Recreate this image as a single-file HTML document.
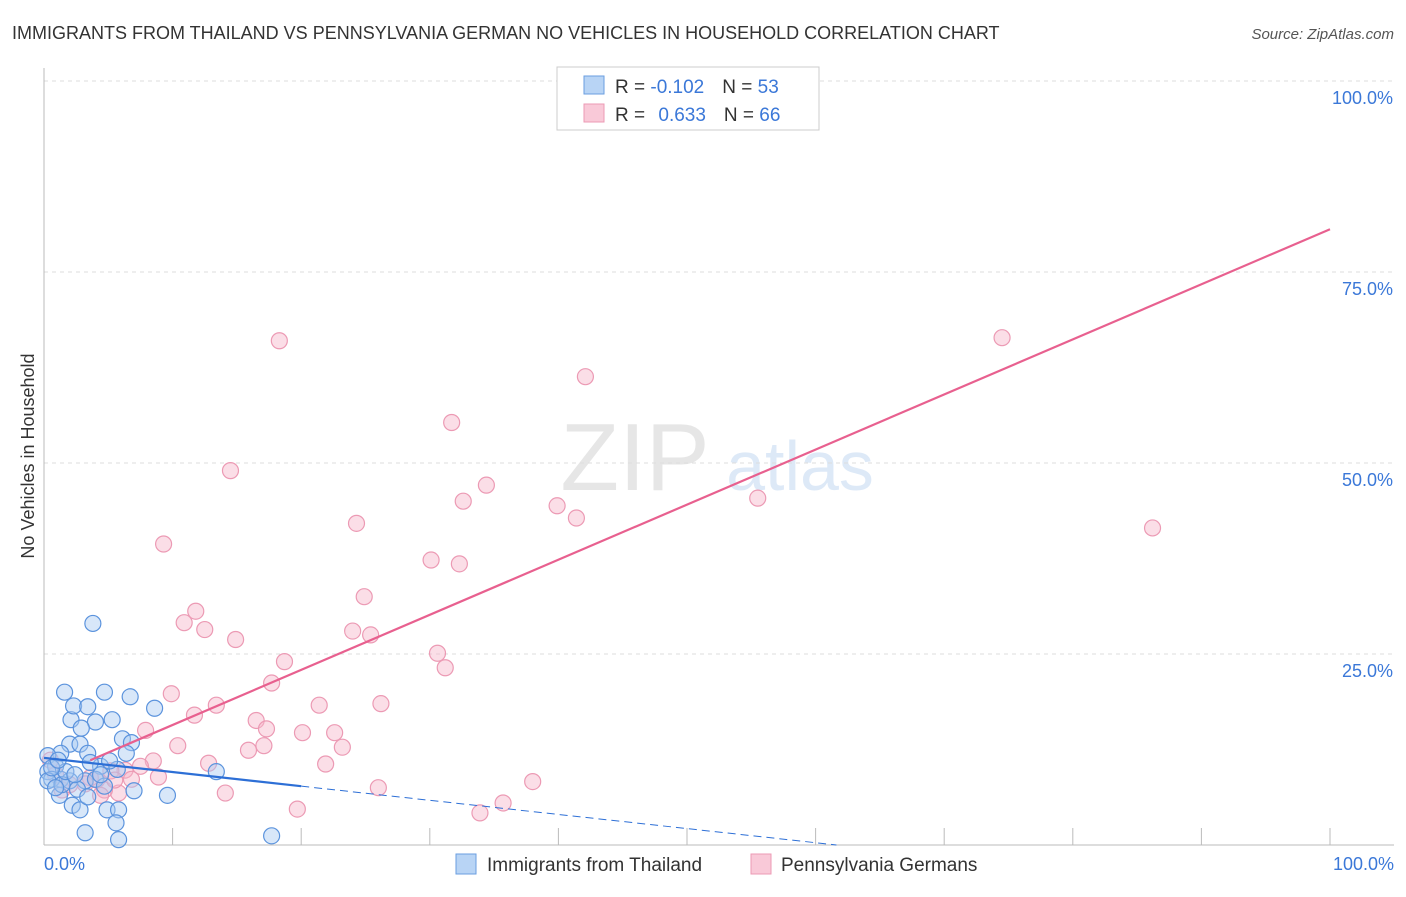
<!DOCTYPE html>
<html><head><meta charset="utf-8">
<style>
body{margin:0;background:#fff;font-family:"Liberation Sans",sans-serif;}
svg text{font-family:"Liberation Sans",sans-serif;}
</style></head>
<body>
<svg id="chart" width="1406" height="892" viewBox="0 0 1406 892" xmlns="http://www.w3.org/2000/svg">
<text x="12" y="39" font-size="18" fill="#333">IMMIGRANTS FROM THAILAND VS PENNSYLVANIA GERMAN NO VEHICLES IN HOUSEHOLD CORRELATION CHART</text>
<text x="1394" y="39" font-size="15" fill="#555" text-anchor="end" font-style="italic">Source: ZipAtlas.com</text>
<text transform="translate(34,456) rotate(-90)" font-size="18" fill="#333" text-anchor="middle">No Vehicles in Household</text>
<g opacity="0.18">
<text x="635" y="490" font-size="96" font-family="Liberation Serif" fill="#777" text-anchor="middle">ZIP</text>
<text x="800" y="490" font-size="70" fill="#4a8ad8" text-anchor="middle">atlas</text>
</g>
<g id="grid"></g><g id="axes"></g><g id="pts"></g><g id="lines"></g>
<g>
<rect x="557" y="67" width="262" height="63" fill="#fff" stroke="#ccc"/>
<rect x="584" y="76" width="20" height="18" fill="#b8d4f5" stroke="#6a9ee0"/>
<rect x="584" y="104" width="20" height="18" fill="#f9c9d8" stroke="#ec9ab4"/>
<text x="615" y="93" font-size="19" fill="#333">R = <tspan fill="#3b78d8">-0.102</tspan><tspan dx="18">N = </tspan><tspan fill="#3b78d8">53</tspan></text>
<text x="615" y="121" font-size="19" fill="#333">R = <tspan fill="#3b78d8" dx="8"> 0.633</tspan><tspan dx="18">N = </tspan><tspan fill="#3b78d8">66</tspan></text>
</g>
<g>
<rect x="456" y="854" width="20" height="20" fill="#b8d4f5" stroke="#6a9ee0"/>
<text x="487" y="871" font-size="19" fill="#333">Immigrants from Thailand</text>
<rect x="751" y="854" width="20" height="20" fill="#f9c9d8" stroke="#ec9ab4"/>
<text x="781" y="871" font-size="19" fill="#333">Pennsylvania Germans</text>
</g>
</svg>
<script>
const yTicks=[25,50,75,100];
const yTickLabels=["25.0%","50.0%","75.0%","100.0%"];
const xEndLabels=["0.0%","100.0%"];
const thaiX=[3.8,1.6,4.7,6.7,8.6,2.1,4.0,5.3,2.3,3.4,2.9,2.0,2.8,6.1,6.8,1.3,3.4,0.3,0.9,4.4,5.7,6.4,1.3,0.3,0.6,2.0,3.2,4.0,4.7,7.0,9.6,13.4,2.6,1.2,0.3,2.2,2.8,4.9,5.8,3.4,1.4,3.2,5.6,5.8,17.7,0.9,1.7,4.4,2.4,3.6,5.1,0.6,1.1];
const thaiY=[29.0,20.0,20.0,19.4,17.9,16.4,16.1,16.4,18.2,18.1,15.3,13.2,13.2,13.9,13.4,12.0,12.0,11.7,10.3,10.3,9.9,12.0,8.6,9.6,8.6,8.4,8.4,8.6,7.7,7.1,6.5,9.6,7.3,6.5,8.4,5.2,4.6,4.6,4.6,6.3,7.9,1.6,2.9,0.7,1.2,7.5,9.6,9.2,9.2,10.8,11.0,10.1,11.1];
const paX=[18.3,31.7,42.1,74.5,14.5,32.6,34.4,39.9,41.4,55.5,86.2,9.3,24.3,30.1,32.3,24.9,11.8,10.9,12.5,14.9,24.0,25.4,18.7,30.6,31.2,17.7,9.9,21.4,26.2,13.4,11.7,7.9,16.5,20.1,17.3,22.6,10.4,15.9,17.1,23.2,12.8,8.5,7.5,21.9,6.3,8.9,5.2,4.1,3.6,14.1,26.0,38.0,35.7,19.7,33.9,5.8,4.7,1.4,0.9,0.5,3.2,6.8,2.0,4.4,5.5,54.1];
const paY=[66.0,55.3,61.3,66.4,49.0,45.0,47.1,44.4,42.8,45.4,41.5,39.4,42.1,37.3,36.8,32.5,30.6,29.1,28.2,26.9,28.0,27.5,24.0,25.1,23.2,21.2,19.8,18.3,18.5,18.3,17.0,15.0,16.3,14.7,15.2,14.7,13.0,12.4,13.0,12.8,10.7,11.0,10.3,10.6,9.8,8.9,9.7,8.5,8.8,6.8,7.5,8.3,5.5,4.7,4.2,6.8,7.2,7.2,9.2,11.1,8.0,8.6,7.9,6.5,8.5,99.9];
const thaiFit=[11.4,-0.185]; // intercept, slope
const paFit=[8.5,0.721];
const ns="http://www.w3.org/2000/svg";
const X=v=>44+v*12.86, Y=v=>845-v*7.64;
function mk(t,a,p){const e=document.createElementNS(ns,t);for(const k in a)e.setAttribute(k,a[k]);p.appendChild(e);return e;}
const grid=document.getElementById('grid'),axes=document.getElementById('axes'),pts=document.getElementById('pts'),lines=document.getElementById('lines');
yTicks.forEach((t,i)=>{
 const g=mk('line',{x1:44,x2:1394,y1:Y(t),y2:Y(t),stroke:'#ddd','stroke-dasharray':'4,4'},grid);
 
 
 const l=mk('text',{x:1393,y:Y(t)+23,'font-size':18,fill:'#3b78d8','text-anchor':'end'},axes);
 l.textContent=yTickLabels[i];
 
 
});
const ya=mk('line',{x1:44,x2:44,y1:68,y2:845,stroke:'#bbb'},axes);


const xa=mk('line',{x1:44,x2:1394,y1:845,y2:845,stroke:'#bbb'},axes);


for(let i=0;i<=10;i++){const t=mk('line',{x1:X(i*10),x2:X(i*10),y1:828,y2:845,stroke:'#bbb'},axes);
 
 }
[[0,'start',44],[100,'end',1394]].forEach((d,i)=>{const t=mk('text',{x:d[2],y:870,'font-size':18,fill:'#3b78d8','text-anchor':d[1]},axes);t.textContent=xEndLabels[i];
 
 });
paX.forEach((x,i)=>{const c=mk('circle',{cx:X(x),cy:Y(paY[i]),r:8,fill:'#f7b6ca','fill-opacity':0.45,stroke:'#ec9ab4','stroke-width':1.2},pts);
 
 });
thaiX.forEach((x,i)=>{const c=mk('circle',{cx:X(x),cy:Y(thaiY[i]),r:8,fill:'#a9c9f2','fill-opacity':0.45,stroke:'#5b93dd','stroke-width':1.2},pts);
 
 });
const f=(fit,x)=>fit[0]+fit[1]*x;
let l1=mk('line',{x1:X(3.6),y1:Y(f(paFit,3.6)),x2:X(100),y2:Y(f(paFit,100)),stroke:'#e8608f','stroke-width':2.2},lines);


let l2=mk('line',{x1:X(0),y1:Y(f(thaiFit,0)),x2:X(20),y2:Y(f(thaiFit,20)),stroke:'#2d6fd6','stroke-width':2.2},lines);


const z=-thaiFit[0]/thaiFit[1];
let l3=mk('line',{x1:X(20),y1:Y(f(thaiFit,20)),x2:X(z),y2:Y(0),stroke:'#2d6fd6','stroke-width':1,'stroke-dasharray':'8,5'},lines);


</script>
</body></html>
